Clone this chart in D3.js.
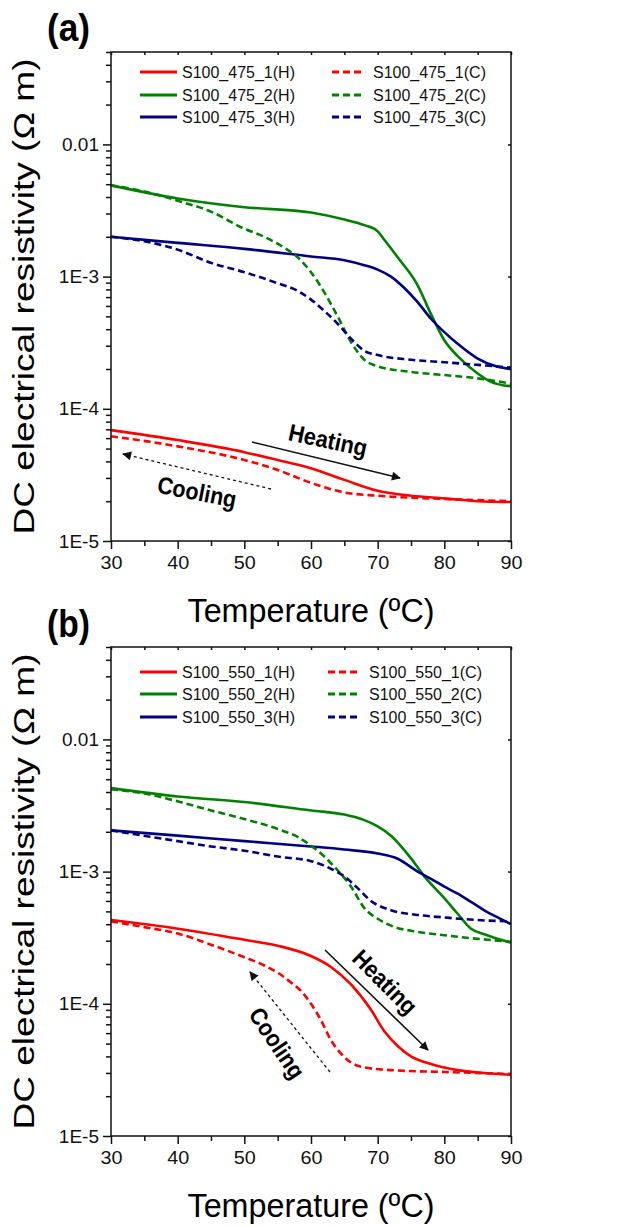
<!DOCTYPE html>
<html lang="en">
  <head>
    <meta charset="UTF-8" />
    <style>
      body { margin: 0; background: #fff; }
      svg { font-family: "Liberation Sans", Arial, sans-serif; }
      .axis path, .axis line { stroke: #111; stroke-width: 1.5; fill: none; }
      .axis text { font-size: 19px; fill: #111; }
    </style>
    <script src="https://d3js.org/d3.v7.min.js"></script>
    <title>DC resistivity</title>
  </head>
  <body>
    <script>
      // ---- data (temperature in ºC, resistivity in Ω m) ----
      var xTicks = [30, 40, 50, 60, 70, 80, 90];
      var yTicks = [1e-5, 1e-4, 1e-3, 0.01];
      var yTickLabels = ["1E-5", "1E-4", "1E-3", "0.01"];

      var namesA = ["S100_475_1(H)", "S100_475_2(H)", "S100_475_3(H)",
                    "S100_475_1(C)", "S100_475_2(C)", "S100_475_3(C)"];
      var namesB = ["S100_550_1(H)", "S100_550_2(H)", "S100_550_3(H)",
                    "S100_550_1(C)", "S100_550_2(C)", "S100_550_3(C)"];

      // panel (a)
      var a1H_T = [30, 40, 50, 55, 60, 65, 70, 75, 80, 85, 90];
      var a1H_v = [6.9e-5, 5.8e-5, 4.7e-5, 4.1e-5, 3.55e-5, 2.9e-5, 2.4e-5, 2.2e-5, 2.1e-5, 2.0e-5, 1.97e-5];
      var a1C_T = [30, 40, 50, 55, 60, 65, 70, 80, 90];
      var a1C_v = [6.2e-5, 5.2e-5, 4.1e-5, 3.45e-5, 2.75e-5, 2.33e-5, 2.2e-5, 2.08e-5, 2.0e-5];
      var a2H_T = [30, 40, 50, 60, 65, 68, 70, 71, 73, 76, 78, 80, 82, 85, 87, 90];
      var a2H_v = [4.9e-3, 3.9e-3, 3.35e-3, 3.05e-3, 2.7e-3, 2.45e-3, 2.2e-3, 1.9e-3, 1.4e-3, 8.6e-4, 5.2e-4, 3.3e-4, 2.5e-4, 1.85e-4, 1.6e-4, 1.48e-4];
      var a2C_T = [30, 35, 40, 45, 50, 53, 56, 58, 60, 62, 64, 66, 68, 70, 75, 80, 85, 90];
      var a2C_v = [4.9e-3, 4.4e-3, 3.75e-3, 3.1e-3, 2.3e-3, 2.0e-3, 1.65e-3, 1.4e-3, 1.08e-3, 7.6e-4, 5.0e-4, 3.2e-4, 2.35e-4, 2.1e-4, 1.9e-4, 1.8e-4, 1.7e-4, 1.55e-4];
      var a3H_T = [30, 40, 50, 60, 65, 68, 70, 72, 74, 76, 78, 80, 82, 85, 88, 90];
      var a3H_v = [2.0e-3, 1.8e-3, 1.62e-3, 1.42e-3, 1.33e-3, 1.22e-3, 1.13e-3, 1.0e-3, 8.2e-4, 6.4e-4, 4.8e-4, 3.8e-4, 3.1e-4, 2.4e-4, 2.08e-4, 2.0e-4];
      var a3C_T = [30, 35, 40, 45, 50, 55, 58, 60, 62, 64, 66, 68, 70, 75, 80, 85, 90];
      var a3C_v = [2.0e-3, 1.85e-3, 1.6e-3, 1.27e-3, 1.08e-3, 8.9e-4, 7.8e-4, 6.7e-4, 5.5e-4, 4.4e-4, 3.4e-4, 2.75e-4, 2.55e-4, 2.35e-4, 2.25e-4, 2.15e-4, 2.05e-4];

      // panel (b)
      var b1H_T = [30, 40, 50, 55, 60, 63, 66, 69, 71, 73, 75, 78, 82, 86, 90];
      var b1H_v = [4.3e-4, 3.7e-4, 3.05e-4, 2.75e-4, 2.3e-4, 1.9e-4, 1.4e-4, 9e-5, 6.2e-5, 4.8e-5, 4.0e-5, 3.5e-5, 3.15e-5, 3.0e-5, 2.9e-5];
      var b1C_T = [30, 35, 40, 45, 50, 53, 55, 57, 58.5, 60, 61.5, 63, 64.5, 66, 68, 72, 80, 90];
      var b1C_v = [4.2e-4, 3.8e-4, 3.4e-4, 2.8e-4, 2.25e-4, 1.95e-4, 1.72e-4, 1.45e-4, 1.25e-4, 1.0e-4, 7.5e-5, 5.3e-5, 4.2e-5, 3.6e-5, 3.3e-5, 3.15e-5, 3.05e-5, 2.95e-5];
      var b2H_T = [30, 40, 50, 60, 65, 68, 70, 72, 75, 77, 80, 82, 84, 86, 90];
      var b2H_v = [4.28e-3, 3.7e-3, 3.36e-3, 2.9e-3, 2.7e-3, 2.45e-3, 2.2e-3, 1.87e-3, 1.26e-3, 9.2e-4, 6.3e-4, 4.8e-4, 3.7e-4, 3.36e-4, 2.9e-4];
      var b2C_T = [30, 35, 40, 45, 50, 55, 58, 60, 62, 64, 66, 68, 70, 72, 76, 80, 85, 90];
      var b2C_v = [4.2e-3, 3.9e-3, 3.4e-3, 2.9e-3, 2.5e-3, 2.1e-3, 1.83e-3, 1.57e-3, 1.3e-3, 1.02e-3, 7.7e-4, 5.3e-4, 4.4e-4, 3.9e-4, 3.5e-4, 3.3e-4, 3.1e-4, 2.95e-4];
      var b3H_T = [30, 40, 50, 60, 65, 70, 73, 76, 78, 80, 82, 84, 86, 88, 90];
      var b3H_v = [2.05e-3, 1.87e-3, 1.7e-3, 1.55e-3, 1.47e-3, 1.37e-3, 1.25e-3, 1.0e-3, 8.8e-4, 7.7e-4, 6.8e-4, 5.9e-4, 5.1e-4, 4.5e-4, 4.0e-4];
      var b3C_T = [30, 40, 45, 50, 55, 60, 63, 65, 67, 69, 72, 76, 80, 85, 90];
      var b3C_v = [2.05e-3, 1.7e-3, 1.55e-3, 1.44e-3, 1.3e-3, 1.2e-3, 1.05e-3, 9.2e-4, 7.5e-4, 6.0e-4, 5.1e-4, 4.7e-4, 4.5e-4, 4.3e-4, 4.2e-4];

      var colors = ["#ff0000", "#008000", "#000080"];

      function zip(ts, vs) {
        return ts.map(function (t, i) { return { t: t, v: vs[i] }; });
      }

      var svg = d3.select("body").append("svg")
        .attr("width", 622).attr("height", 1229);
      svg.append("rect").attr("width", 622).attr("height", 1229).attr("fill", "#fff");

      var defs = svg.append("defs");
      defs.append("marker")
        .attr("id", "head")
        .attr("viewBox", "0 0 10 10")
        .attr("refX", 9).attr("refY", 5)
        .attr("markerWidth", 13).attr("markerHeight", 9)
        .attr("markerUnits", "userSpaceOnUse")
        .attr("orient", "auto")
        .append("path").attr("d", "M0,0 L10,5 L0,10 Z").attr("fill", "#111");

      function drawPanel(cfg) {
        var left = 111, right = 511, top = cfg.top, bottom = cfg.top + 489;
        var x = d3.scaleLinear().domain([30, 90]).range([left, right]);
        var y = d3.scaleLog().domain([1e-5, 0.05]).range([bottom, top]);

        var g = svg.append("g");

        // minor ticks
        var minorY = [];
        [1e-5, 1e-4, 1e-3, 1e-2].forEach(function (d) {
          for (var k = 2; k <= 9; k++) if (d * k <= 0.05) minorY.push(d * k);
        });
        var minorX = [35, 45, 55, 65, 75, 85];

        g.append("g").attr("class", "axis")
          .attr("transform", "translate(0," + bottom + ")")
          .call(d3.axisBottom(x).tickValues(minorX).tickSize(5).tickFormat(""))
          .select(".domain").remove();
        g.append("g").attr("class", "axis")
          .attr("transform", "translate(" + left + ",0)")
          .call(d3.axisLeft(y).tickValues(minorY).tickSize(5).tickFormat(""))
          .select(".domain").remove();
        // inner ticks on top and right
        g.append("g").attr("class", "axis")
          .attr("transform", "translate(0," + top + ")")
          .call(d3.axisTop(x).tickValues(xTicks.concat(minorX)).tickSize(-3).tickFormat(""))
          .select(".domain").remove();
        g.append("g").attr("class", "axis")
          .attr("transform", "translate(" + right + ",0)")
          .call(d3.axisRight(y).tickValues(yTicks).tickSize(-3).tickFormat(""))
          .select(".domain").remove();

        var xa = g.append("g").attr("class", "axis")
          .attr("transform", "translate(0," + bottom + ")")
          .call(d3.axisBottom(x).tickValues(xTicks).tickSize(8).tickPadding(6).tickSizeOuter(0));
        xa.select(".domain").remove();
        xa.selectAll("text").attr("font-size", 23).attr("dy", "0.75em")
          .attr("textLength", 22).attr("lengthAdjust", "spacingAndGlyphs");

        var ya = g.append("g").attr("class", "axis")
          .attr("transform", "translate(" + left + ",0)")
          .call(d3.axisLeft(y).tickValues(yTicks).tickSize(8).tickPadding(4)
            .tickFormat(function (d, i) { return yTickLabels[i]; }));
        ya.select(".domain").remove();

        // series
        var line = d3.line()
          .x(function (d) { return x(d.t); })
          .y(function (d) { return y(d.v); })
          .curve(d3.curveMonotoneX);

        cfg.series.forEach(function (s, i) {
          g.append("path")
            .attr("d", line(s))
            .attr("fill", "none")
            .attr("stroke", colors[i % 3])
            .attr("stroke-width", 2.6)
            .attr("stroke-dasharray", i >= 3 ? "7,4" : null);
        });

        // frame
        g.append("rect")
          .attr("x", left).attr("y", top)
          .attr("width", right - left).attr("height", bottom - top)
          .attr("fill", "none").attr("stroke", "#111").attr("stroke-width", 1.5);

        // legend
        cfg.names.forEach(function (n, i) {
          var row = i % 3, dashed = i >= 3;
          var ly = cfg.legendY[row];
          var x0 = dashed ? cfg.dashX : 140, x1 = dashed ? cfg.dashX + 30 : 177;
          g.append("line")
            .attr("x1", x0).attr("x2", x1).attr("y1", ly).attr("y2", ly)
            .attr("stroke", colors[row]).attr("stroke-width", 3)
            .attr("stroke-dasharray", dashed ? "7,4" : null);
          g.append("text")
            .attr("x", dashed ? cfg.dashX + 41 : 182).attr("y", ly + 6)
            .attr("font-size", 16).attr("fill", "#111")
            .text(n);
        });

        // titles
        g.append("text")
          .attr("x", (left + right) / 2).attr("y", bottom + 81)
          .attr("text-anchor", "middle").attr("font-size", 34)
          .attr("textLength", 247).attr("lengthAdjust", "spacingAndGlyphs")
          .text("Temperature (ºC)");
        g.append("text")
          .attr("transform", "translate(34," + (top + bottom) / 2 + ") rotate(-90)")
          .attr("text-anchor", "middle").attr("font-size", 30)
          .attr("textLength", 476).attr("lengthAdjust", "spacingAndGlyphs")
          .text("DC electrical resistivity (Ω m)");
        g.append("text")
          .attr("x", 47).attr("y", cfg.labelY)
          .attr("font-size", 38).attr("font-weight", "bold")
          .attr("textLength", 43).attr("lengthAdjust", "spacingAndGlyphs")
          .text(cfg.label);

        // heating / cooling annotations
        cfg.notes.forEach(function (a) {
          g.append("line")
            .attr("x1", a.from[0]).attr("y1", a.from[1])
            .attr("x2", a.to[0]).attr("y2", a.to[1])
            .attr("stroke", "#111")
            .attr("stroke-width", a.dotted ? 1.3 : 1.6)
            .attr("stroke-dasharray", a.dotted ? "3,3" : null)
            .attr("marker-end", "url(#head)");
          g.append("text")
            .attr("transform", "translate(" + a.at[0] + "," + a.at[1] + ") rotate(" + a.angle + ")")
            .attr("text-anchor", "middle").attr("dy", "0.35em")
            .attr("font-size", 24).attr("font-weight", "bold")
            .attr("textLength", 80).attr("lengthAdjust", "spacingAndGlyphs")
            .text(a.text);
        });
      }

      drawPanel({
        top: 52, label: "(a)", labelY: 41,
        names: namesA, legendY: [72, 95, 117], dashX: 332,
        series: [zip(a1H_T, a1H_v), zip(a2H_T, a2H_v), zip(a3H_T, a3H_v),
                 zip(a1C_T, a1C_v), zip(a2C_T, a2C_v), zip(a3C_T, a3C_v)],
        notes: [
          { text: "Heating", at: [328, 440], angle: 12, from: [252, 442], to: [400, 478], dotted: false },
          { text: "Cooling", at: [197, 492], angle: 11, from: [271, 489], to: [123, 454], dotted: true }
        ]
      });

      drawPanel({
        top: 647, label: "(b)", labelY: 637,
        names: namesB, legendY: [672, 694, 717], dashX: 328,
        series: [zip(b1H_T, b1H_v), zip(b2H_T, b2H_v), zip(b3H_T, b3H_v),
                 zip(b1C_T, b1C_v), zip(b2C_T, b2C_v), zip(b3C_T, b3C_v)],
        notes: [
          { text: "Heating", at: [385, 982], angle: 45, from: [325, 950], to: [428, 1050], dotted: false },
          { text: "Cooling", at: [277, 1043], angle: 56, from: [330, 1072], to: [250, 972], dotted: true }
        ]
      });
    </script>
  </body>
</html>
